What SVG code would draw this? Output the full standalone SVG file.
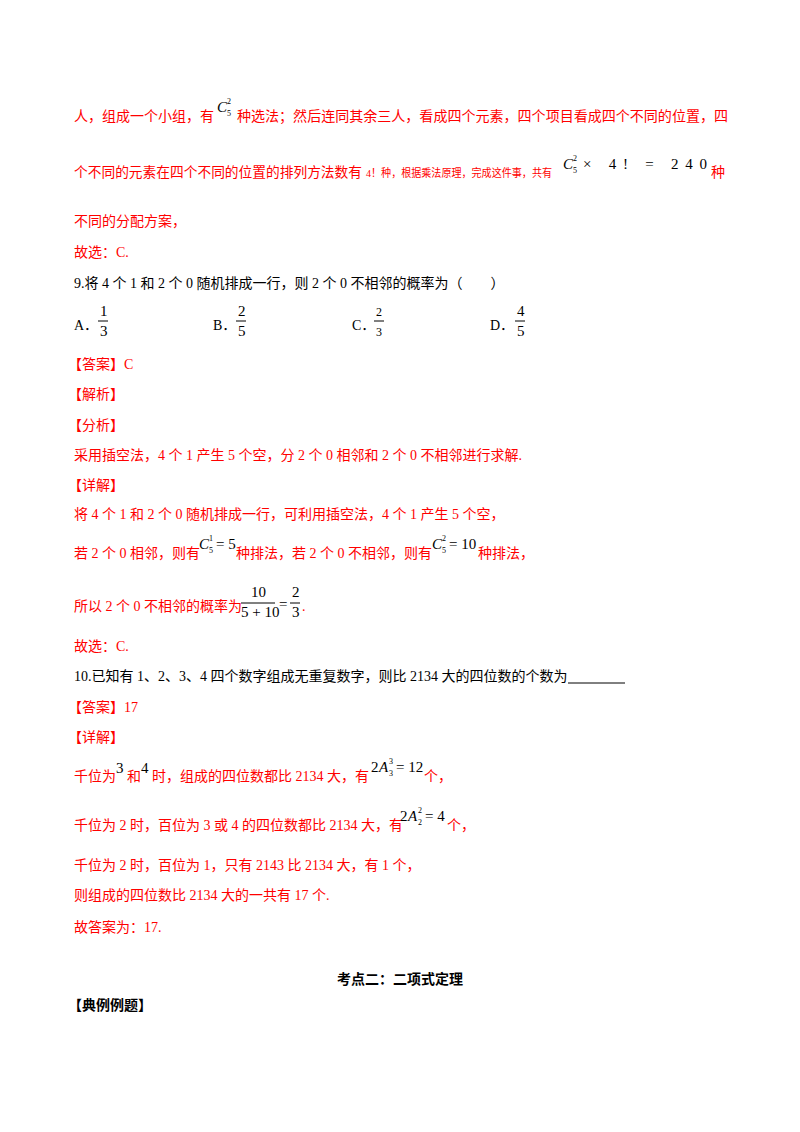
<svg xmlns="http://www.w3.org/2000/svg" width="800" height="1132" viewBox="0 0 800 1132">
<style>
text{font-family:"Liberation Serif","Noto Sans CJK SC",serif;font-size:14px}
.r{fill:#ff0000}.k{fill:#000}
.m{font-family:"Liberation Serif",serif;font-style:italic;fill:#000;font-size:15px}
.n{font-family:"Liberation Serif",serif;font-style:normal;fill:#000;font-size:15px}
.s{font-family:"Liberation Serif",serif;font-size:8px;fill:#000}
.b{font-weight:bold}
</style>
<rect width="800" height="1132" fill="#fff"/>
<text class="r" x="74" y="121">人，组成一个小组，有</text>
<text class="m" x="217" y="112">C</text><text class="s" x="227" y="104">2</text><text class="s" x="227" y="116">5</text>
<text class="r" x="237" y="121" textLength="491" lengthAdjust="spacingAndGlyphs">种选法；然后连同其余三人，看成四个元素，四个项目看成四个不同的位置，四</text>
<text class="r" x="74" y="177" textLength="288" lengthAdjust="spacingAndGlyphs">个不同的元素在四个不同的位置的排列方法数有</text>
<text class="r" x="366" y="177" style="font-size:11px" textLength="186" lengthAdjust="spacingAndGlyphs">4！种，根据乘法原理，完成这件事，共有</text>
<text class="m" x="563" y="169">C</text><text class="s" x="573" y="161">2</text><text class="s" x="573" y="173">5</text>
<text class="n" x="583" y="169" textLength="124">× 4! = 240</text>
<text class="r" x="711" y="177">种</text>
<text class="r" x="74" y="226">不同的分配方案，</text>
<text class="r" x="74" y="257">故选：C.</text>
<text class="k" x="74" y="288">9.将 4 个 1 和 2 个 0 随机排成一行，则 2 个 0 不相邻的概率为（　　）</text>
<g class="k">
<text x="74" y="330">A．</text><text class="n" x="100" y="316">1</text><line x1="98" y1="321" x2="108" y2="321" stroke="#000"/><text class="n" x="100" y="336">3</text>
<text x="213" y="330">B．</text><text class="n" x="238" y="316">2</text><line x1="236" y1="321" x2="246" y2="321" stroke="#000"/><text class="n" x="238" y="336">5</text>
<text x="352" y="330">C．</text><text class="n" x="376" y="316" style="font-size:12px">2</text><line x1="374" y1="321" x2="384" y2="321" stroke="#000"/><text class="n" x="376" y="336" style="font-size:12px">3</text>
<text x="490" y="330">D．</text><text class="n" x="517" y="316">4</text><line x1="515" y1="321" x2="525" y2="321" stroke="#000"/><text class="n" x="517" y="336">5</text>
</g>
<text class="r" x="68" y="369">【答案】C</text>
<text class="r" x="68" y="399">【解析】</text>
<text class="r" x="68" y="430">【分析】</text>
<text class="r" x="74" y="460">采用插空法，4 个 1 产生 5 个空，分 2 个 0 相邻和 2 个 0 不相邻进行求解.</text>
<text class="r" x="68" y="490">【详解】</text>
<text class="r" x="74" y="519">将 4 个 1 和 2 个 0 随机排成一行，可利用插空法，4 个 1 产生 5 个空，</text>
<text class="r" x="74" y="558">若 2 个 0 相邻，则有</text>
<text class="m" x="199" y="549">C</text><text class="s" x="209" y="541">1</text><text class="s" x="209" y="553">5</text>
<text class="n" x="216" y="549">= 5</text>
<text class="r" x="236" y="558">种排法，若 2 个 0 不相邻，则有</text>
<text class="m" x="432" y="549">C</text><text class="s" x="442" y="541">2</text><text class="s" x="442" y="553">5</text>
<text class="n" x="449" y="549">= 10</text>
<text class="r" x="478" y="558">种排法，</text>
<text class="r" x="74" y="611">所以 2 个 0 不相邻的概率为</text>
<text class="n" x="251" y="597">10</text>
<line x1="241" y1="603" x2="275" y2="603" stroke="#000"/>
<text class="n" x="241" y="617">5 + 10</text>
<text class="n" x="279" y="609">=</text>
<text class="n" x="292" y="597">2</text>
<line x1="290" y1="603" x2="300" y2="603" stroke="#000"/>
<text class="n" x="292" y="617">3</text>
<text class="r" x="302" y="611">.</text>
<text class="r" x="74" y="651">故选：C.</text>
<text class="k" x="74" y="681">10.已知有 1、2、3、4 四个数字组成无重复数字，则比 2134 大的四位数的个数为</text>
<line x1="568" y1="683" x2="625" y2="683" stroke="#000"/>
<text class="r" x="68" y="712">【答案】17</text>
<text class="r" x="68" y="742">【详解】</text>
<text class="r" x="74" y="781">千位为</text>
<text class="n" x="116" y="773">3</text>
<text class="r" x="127" y="781">和</text>
<text class="n" x="141" y="773">4</text>
<text class="r" x="152" y="781">时，组成的四位数都比 2134 大，有</text>
<text class="n" x="371" y="772">2</text><text class="m" x="379" y="772">A</text><text class="s" x="389" y="764">3</text><text class="s" x="389" y="776">3</text>
<text class="n" x="396" y="772">= 12</text>
<text class="r" x="424" y="781">个，</text>
<text class="r" x="74" y="830">千位为 2 时，百位为 3 或 4 的四位数都比 2134 大，有</text>
<text class="n" x="400" y="821">2</text><text class="m" x="408" y="821">A</text><text class="s" x="418" y="813">2</text><text class="s" x="418" y="825">2</text>
<text class="n" x="425" y="821">= 4</text>
<text class="r" x="447" y="830">个，</text>
<text class="r" x="74" y="870">千位为 2 时，百位为 1，只有 2143 比 2134 大，有 1 个，</text>
<text class="r" x="74" y="900">则组成的四位数比 2134 大的一共有 17 个.</text>
<text class="r" x="74" y="932">故答案为：17.</text>
<text class="k b" x="400" y="984" text-anchor="middle">考点二：二项式定理</text>
<text class="k b" x="68" y="1010">【典例例题】</text>
</svg>
